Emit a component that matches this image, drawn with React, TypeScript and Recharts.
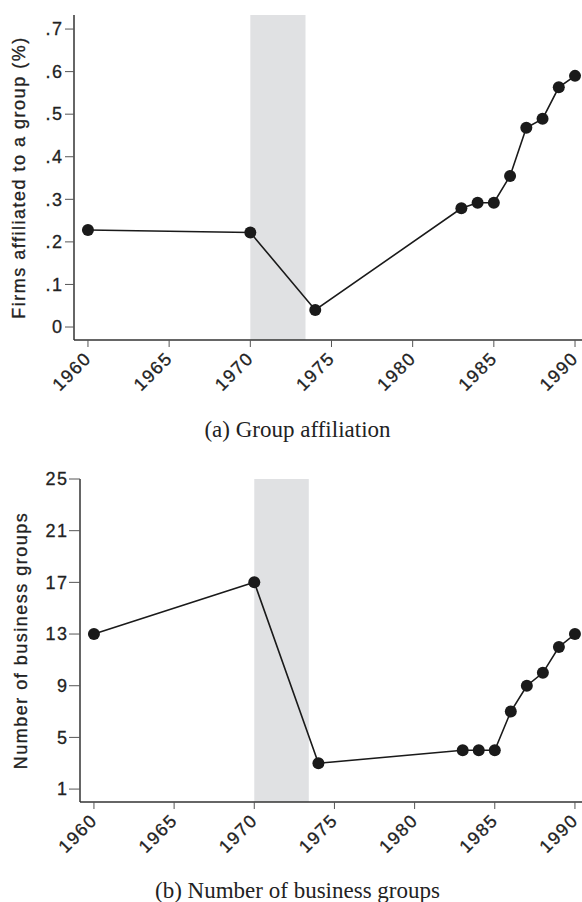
import { LineChart, Line, XAxis, YAxis, ReferenceArea, Label } from 'recharts';

const years = [1960, 1970, 1974, 1983, 1984, 1985, 1986, 1987, 1988, 1989, 1990];
const affiliation = [0.228, 0.222, 0.04, 0.279, 0.292, 0.292, 0.355, 0.468, 0.489, 0.563, 0.59];
const groups = [13, 17, 3, 4, 4, 4, 7, 9, 10, 12, 13];

const yearTicks = [1960, 1965, 1970, 1975, 1980, 1985, 1990];
const affiliationTicks = [0, 0.1, 0.2, 0.3, 0.4, 0.5, 0.6, 0.7];
const groupTicks = [1, 5, 9, 13, 17, 21, 25];

const shadeFrom = 1970;
const shadeTo = 1973.4;

const affData = years.map((year, i) => ({ year, value: affiliation[i] }));
const groupData = years.map((year, i) => ({ year, value: groups[i] }));

const SANS = '"Liberation Sans", Arial, Helvetica, sans-serif';
const SERIF = '"Liberation Serif", "Times New Roman", serif';
const INK = '#1a1a1a';
const FS = 18;
const LS = 1.5;

// text looks a touch heavier in the source, so a hairline stroke on labels
const textStyle = {
  fontSize: FS,
  fontFamily: SANS,
  letterSpacing: LS,
  fill: '#222',
  stroke: '#222',
  strokeWidth: 0.3,
};

const fmtShare = (v: number) => (v === 0 ? '0' : v.toFixed(1).replace(/^0/, ''));

function XTick({ x, y, payload }: any) {
  const ax = x;
  const ay = y + 8;
  return (
    <text x={ax} y={ay} dy="0.35em" transform={`rotate(-45 ${ax} ${ay})`} textAnchor="end" {...textStyle}>
      {payload.value}
    </text>
  );
}

function YTick({ x, y, payload, fmt }: any) {
  return (
    <text x={x} y={y} dy="0.35em" textAnchor="end" {...textStyle}>
      {fmt ? fmt(payload.value) : payload.value}
    </text>
  );
}

function yLabel(text: string, bx: number) {
  return ({ viewBox }: any) => {
    const cy = viewBox.y + viewBox.height / 2;
    return (
      <text x={bx} y={cy} transform={`rotate(-90 ${bx} ${cy})`} textAnchor="middle" {...textStyle}>
        {text}
      </text>
    );
  };
}

const caption: React.CSSProperties = {
  position: 'absolute',
  left: 0,
  width: 595,
  textAlign: 'center',
  fontFamily: SERIF,
  fontSize: 23,
  lineHeight: '23px',
  color: '#222',
  whiteSpace: 'nowrap',
};

export default function App() {
  return (
    <div
      style={{
        position: 'absolute',
        top: 0,
        left: 0,
        width: 582,
        height: 902,
        background: '#fff',
        overflow: 'hidden',
      }}
    >
      <style>{'.recharts-surface { overflow: visible; }'}</style>
      <div style={{ position: 'absolute', top: 0, left: 0 }}>
        <LineChart width={582} height={400} data={affData} margin={{ top: 15, right: 0, bottom: 0, left: 0 }}>
          <ReferenceArea x1={shadeFrom} x2={shadeTo} fill="#e0e1e3" fillOpacity={1} stroke="none" />
          <XAxis
            dataKey="year"
            type="number"
            domain={[1959.14, 1990.43]}
            ticks={yearTicks}
            interval={0}
            allowDataOverflow
            height={60}
            tickSize={7}
            tickMargin={0}
            axisLine={{ stroke: '#333', strokeWidth: 1.5 }}
            tickLine={{ stroke: '#555' }}
            tick={<XTick />}
          />
          <YAxis
            type="number"
            domain={[-0.0305, 0.733]}
            ticks={affiliationTicks}
            interval={0}
            allowDataOverflow
            width={74}
            tickSize={9}
            tickMargin={1.5}
            axisLine={{ stroke: '#333', strokeWidth: 1.5 }}
            tickLine={{ stroke: '#555' }}
            tick={<YTick fmt={fmtShare} />}
          >
            <Label content={yLabel('Firms affiliated to a group (%)', 25)} />
          </YAxis>
          <Line
            dataKey="value"
            stroke={INK}
            strokeWidth={1.6}
            dot={{ r: 6, fill: INK, stroke: 'none', strokeWidth: 0 }}
            activeDot={false}
            isAnimationActive={false}
          />
        </LineChart>
      </div>
      <div style={{ ...caption, top: 418 }}>(a) Group affiliation</div>

      <div style={{ position: 'absolute', top: 440, left: 0 }}>
        <LineChart width={582} height={420} data={groupData} margin={{ top: 39, right: 0, bottom: 0, left: 0 }}>
          <ReferenceArea x1={shadeFrom} x2={shadeTo} fill="#e0e1e3" fillOpacity={1} stroke="none" />
          <XAxis
            dataKey="year"
            type="number"
            domain={[1959.13, 1990.44]}
            ticks={yearTicks}
            interval={0}
            allowDataOverflow
            height={58}
            tickSize={7}
            tickMargin={0}
            axisLine={{ stroke: '#333', strokeWidth: 1.5 }}
            tickLine={{ stroke: '#555' }}
            tick={<XTick />}
          />
          <YAxis
            type="number"
            domain={[0, 25]}
            ticks={groupTicks}
            interval={0}
            allowDataOverflow
            width={80}
            tickSize={11}
            tickMargin={0.5}
            axisLine={{ stroke: '#333', strokeWidth: 1.5 }}
            tickLine={{ stroke: '#555' }}
            tick={<YTick />}
          >
            <Label content={yLabel('Number of business groups', 26.5)} />
          </YAxis>
          <Line
            dataKey="value"
            stroke={INK}
            strokeWidth={1.6}
            dot={{ r: 6, fill: INK, stroke: 'none', strokeWidth: 0 }}
            activeDot={false}
            isAnimationActive={false}
          />
        </LineChart>
      </div>
      <div style={{ ...caption, top: 879 }}>(b) Number of business groups</div>
    </div>
  );
}
